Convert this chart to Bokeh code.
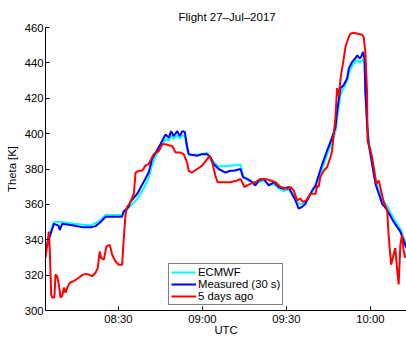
from bokeh.plotting import figure
from bokeh.models import FixedTicker, Legend, LegendItem, Range1d
from bokeh.embed import file_html
from bokeh.resources import INLINE

# ---- data (time in minutes after 08:00 UTC, theta in K) ----
ecmwf_min = [4.3, 6.9, 9.9, 13.9, 20.0, 23.6, 25.4, 31.3, 33.6, 36.7, 39.0, 40.8, 42.0, 43.2,
             45.0, 46.8, 48.0, 48.8, 49.7, 51.0, 51.9, 52.8, 53.7, 54.5, 55.1, 58.1, 61.7, 64.0,
             65.8, 68.2, 70.0, 73.6, 74.5, 76.0, 78.9, 81.9, 83.7, 85.5, 87.3, 89.0, 90.8, 92.0,
             93.2, 94.4, 95.6, 96.8, 98.0, 99.2, 100.4, 101.5, 102.8, 104.5, 106.3, 107.5, 108.1,
             109.3, 110.5, 111.7, 112.3, 113.5, 114.6, 115.3, 116.2, 116.7, 117.4, 117.9, 118.2,
             118.8, 119.4, 120.6, 121.8, 123.0, 124.2, 126.0, 128.3, 130.7, 132.9]
ecmwf_theta = [338, 350, 350, 349, 348, 351, 354, 354, 358, 363, 369, 375, 382, 387,
               392, 397, 396, 399, 397, 399, 397, 399, 399, 391, 388, 388, 389, 384,
               381.5, 381.5, 382, 382.5, 376, 374, 372, 373.5, 371, 371.5, 369, 367.5, 368.5, 366,
               363, 360.5, 360, 361, 364, 367, 370, 375, 380, 388, 395, 401, 408,
               422, 426, 430, 434, 438.5, 440.5, 441.5, 440, 441, 442, 440, 425,
               407, 396, 385, 374, 368, 363, 359, 352, 346, 337]

measured_min = [4.3, 6.9, 8.6, 9.0, 9.9, 13.9, 17.5, 20.0, 21.8, 23.6, 25.4, 31.3, 31.8, 33.6,
                34.3, 36.7, 39.0, 40.8, 42.0, 43.2, 45.0, 46.8, 48.0, 48.8, 49.7, 51.0, 51.9,
                52.8, 53.7, 54.5, 55.1, 58.1, 59.9, 61.7, 62.9, 64.0, 65.8, 68.2, 70.0, 71.2,
                73.6, 74.5, 76.0, 77.8, 78.9, 80.1, 81.9, 83.7, 85.5, 87.3, 89.0, 90.8, 92.0,
                93.2, 94.4, 95.6, 96.8, 98.0, 99.2, 100.4, 101.5, 102.8, 104.5, 106.3, 107.5,
                108.1, 109.3, 110.5, 111.7, 112.3, 113.5, 114.6, 115.3, 116.2, 116.7, 117.4,
                117.9, 118.2, 118.8, 119.4, 120.6, 121.8, 123.0, 124.2, 126.0, 128.3, 130.7, 132.9]
measured_theta = [336, 349, 348, 345.5, 349, 348, 347, 347, 347.7, 350, 353, 353, 356, 358.5,
                  361.5, 366, 372.6, 378, 385.6, 389, 394, 399.6, 397.7, 401.4, 398.6, 401.4, 398.6,
                  401.4, 400.9, 393, 388.4, 387.5, 388.4, 388.4, 386.5, 382.8, 380, 378, 379, 379,
                  380, 375.3, 374.4, 372.5, 370.7, 373.5, 374.4, 370.7, 372.5, 369.8, 368.8, 369.8, 366,
                  362.3, 357.6, 358.6, 360.4, 364.2, 367.9, 370.7, 376.3, 382.8, 390.2, 397.7, 403.3,
                  412.6, 425.7, 427.5, 431.3, 436.9, 440.6, 442.5, 444.3, 442.5, 443.4, 446.2,
                  442.5, 423.8, 405.2, 394, 382.8, 371.6, 366, 360.4, 356.7, 350.2, 344.6, 335.3]

days5_min = [3.9, 4.75, 5.1, 5.45, 5.96, 6.3, 7.1, 7.5, 8.1, 8.7, 9.3, 9.9, 10.5, 11.1, 11.7,
             12.6, 14.0, 15.8, 17.0, 18.2, 19.4, 20.6, 21.8, 22.6, 23.3, 23.8, 24.75, 25.7, 26.9,
             27.75, 28.9, 30.1, 31.3, 31.9, 32.5, 33.1, 34.0, 35.5, 36.1, 37.25, 38.5, 39.6, 40.8,
             42.6, 44.4, 45.6, 46.8, 48.0, 49.2, 50.4, 52.1, 53.3, 54.5, 55.1, 56.3, 58.1, 59.9,
             61.7, 62.5, 63.5, 64.6, 65.4, 67.6, 70.0, 72.4, 73.6, 74.2, 75.0, 76.0, 77.1, 78.9,
             80.7, 82.5, 84.3, 86.1, 87.9, 90.25, 91.4, 92.6, 93.8, 95.0, 95.9, 97.1, 98.6, 100.4,
             101.0, 101.5, 102.1, 103.3, 104.5, 105.7, 106.3, 106.9, 107.5, 108.1, 108.6, 109.0,
             109.5, 110.5, 111.1, 112.25, 112.9, 114.0, 117.0, 117.6, 118.2, 118.8, 119.0, 119.75,
             120.6, 121.4, 122.1, 123.0, 123.8, 124.75, 126.0, 126.5, 127.4, 128.3, 128.9, 129.5,
             130.1, 130.7, 131.3, 131.9, 132.5]
days5_theta = [329.7, 339, 344.6, 335, 309.1, 307.3, 307.3, 320.3, 319.4, 314.7, 307.3, 308.2, 312.9,
               310.1, 312.9, 315.7, 316.6, 318.5, 320, 320.7, 320.3, 319.4, 321.3, 324.1, 333.4, 329.7,
               328.7, 336.2, 337.1, 331.5, 327.8, 325.9, 325.9, 340.8, 353.9, 358.6, 360.4, 366, 378,
               379, 379, 381.9, 382.8, 388.4, 390.2, 394, 394, 393.4, 393, 389.3, 389.3, 388.4, 383.8,
               379, 378, 380, 381.9, 385.6, 387.5, 383.8, 376.3, 372.5, 372.5, 372.5, 373.5, 374.4,
               372.5, 369.8, 370.7, 371.6, 372.5, 374.4, 374.4, 373.5, 372.5, 369.8, 368.8, 369.8,
               367.9, 362.3, 363.2, 361.4, 362.3, 366, 366, 370.7, 369.8, 375.4, 379, 381, 386.5,
               390.2, 399.6, 408.9, 425.7, 421, 425.7, 433.1, 442.5, 449, 454.6, 456.5, 457, 455.9,
               454.6, 446.2, 423.8, 395.8, 392.1, 386.5, 379, 371.6, 373.5, 367.9, 361.4, 356.7,
               342.7, 325.9, 331.5, 335.3, 324.1, 314.7, 337.1, 342.7, 333.4, 329.7]

x_ticks = [30, 60, 90, 120]
x_tick_labels = ["08:30", "09:00", "09:30", "10:00"]
y_ticks = [300, 320, 340, 360, 380, 400, 420, 440, 460]
series_names = ["ECMWF", "Measured (30 s)", "5 days ago"]

FONT = "Liberation Sans"
FS = "11.3px"

p = figure(width=406, height=338, output_backend="svg", toolbar_location=None,
           x_range=Range1d(3.93, 132.9), y_range=Range1d(300, 460),
           min_border_left=45, min_border_right=0, min_border_top=27, min_border_bottom=25)

p.title.text = "Flight 27\u2013Jul\u20132017"
p.title.text_font = FONT
p.title.text_font_size = "11.5px"
p.title.text_font_style = "normal"
p.title.text_color = "black"
p.title.align = "left"
p.title.offset = 133
p.title.standoff = 10

p.outline_line_color = None
p.xgrid.visible = False
p.ygrid.visible = False
p.background_fill_color = "white"
p.border_fill_color = "white"

for ax in (p.xaxis[0], p.yaxis[0]):
    ax.axis_line_color = "black"
    ax.axis_line_width = 1
    ax.major_tick_in = 4
    ax.major_tick_out = 0
    ax.major_tick_line_color = "black"
    ax.minor_tick_line_color = None
    ax.major_label_text_font = FONT
    ax.major_label_text_font_size = FS
    ax.major_label_text_color = "black"
    ax.axis_label_text_font = FONT
    ax.axis_label_text_font_size = FS
    ax.axis_label_text_font_style = "normal"
    ax.axis_label_text_color = "black"
    ax.major_label_standoff = 2

p.xaxis.ticker = FixedTicker(ticks=x_ticks)
p.xaxis.major_label_overrides = {t: l for t, l in zip(x_ticks, x_tick_labels)}
p.xaxis.axis_label = "UTC"
p.xaxis.axis_label_standoff = -4
p.yaxis.ticker = FixedTicker(ticks=y_ticks)
p.yaxis.axis_label = "Theta [K]"
p.yaxis.axis_label_standoff = 4

r1 = p.line(ecmwf_min, ecmwf_theta, line_color="#00FFFF", line_width=2)
r2 = p.line(measured_min, measured_theta, line_color="#0000FF", line_width=2)
r3 = p.line(days5_min, days5_theta, line_color="#FF0000", line_width=2)

legend = Legend(items=[LegendItem(label=n, renderers=[r]) for n, r in zip(series_names, [r1, r2, r3])],
                location=(123, 5), orientation="vertical",
                label_text_font=FONT, label_text_font_size=FS, label_text_color="black",
                glyph_width=25, glyph_height=12, label_height=12, label_standoff=2,
                spacing=0, padding=2, margin=0,
                border_line_color="black", border_line_width=1,
                background_fill_color="white", background_fill_alpha=1.0)
p.add_layout(legend, "center")

open("out.html", "w").write(file_html(p, INLINE))
